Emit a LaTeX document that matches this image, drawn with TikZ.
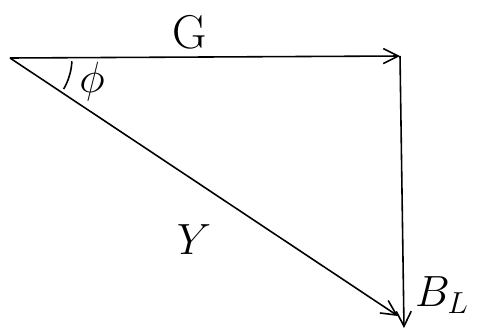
\documentclass[tikz,border=0pt]{standalone}
\usepackage{amsmath,amssymb}
\usetikzlibrary{arrows.meta,positioning,calc}

\begin{document}
\begin{tikzpicture}[x=0.02cm,y=-0.02cm,>={Straight Barb[length=3mm,width=3mm]},line width=0.9pt]
\useasboundingbox (0,0) rectangle (482,332);
\tikzset{lbl/.style={font=\fontsize{27}{29}\selectfont}}
\coordinate (o) at (10,58);
\coordinate (g) at (400,56);
\coordinate (b) at (404,328);
\coordinate (y) at (398,316);
\draw[->] (o)--(g);
\draw[->] (g)--(b);
\draw[->] (o)--(y);
\draw (o) ++(3:62) arc[start angle=3,end angle=30,radius=62];
\node[lbl] (lg) at (190,32) {G};
\node[lbl] (lphi) at (92,82) {$\phi$};
\node[lbl] (ly) at (194,240) {$Y$};
\node[lbl] (lb) at (442,295) {$B_L$};
\end{tikzpicture}
\end{document}
